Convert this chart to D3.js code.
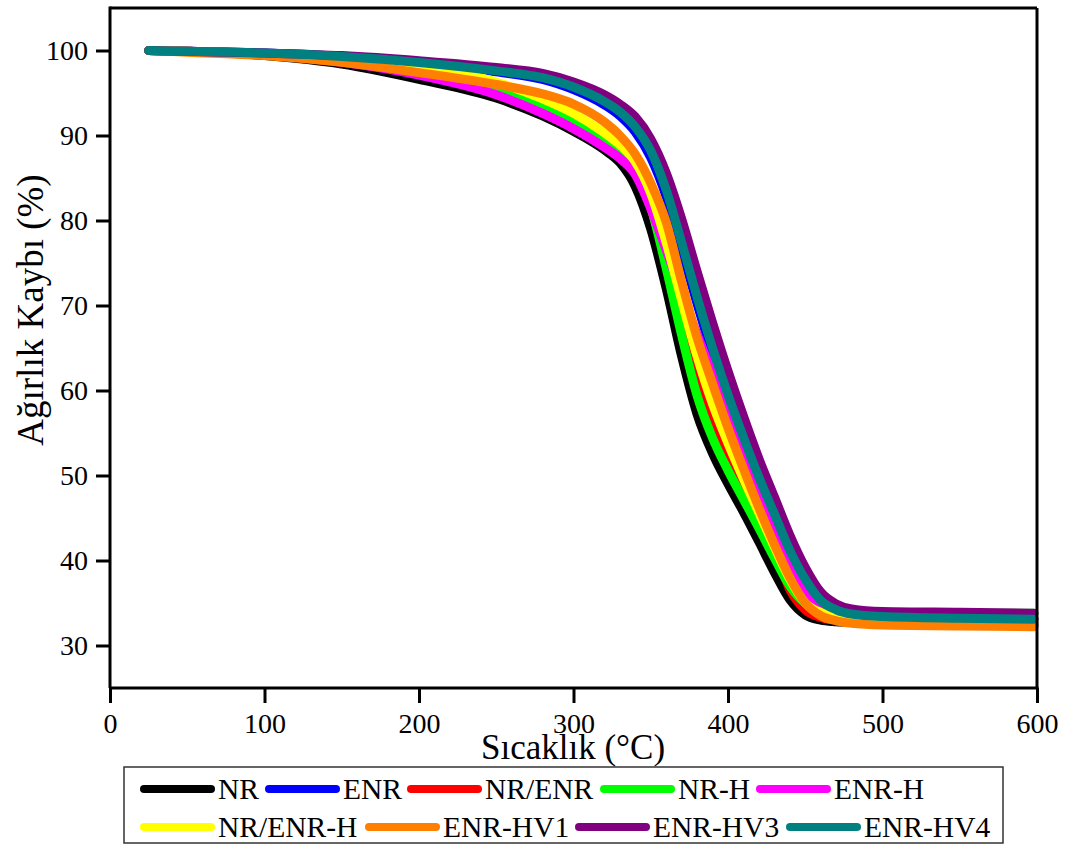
<!DOCTYPE html>
<html>
<head>
<meta charset="utf-8">
<script src="https://cdn.jsdelivr.net/npm/d3@7"></script>
<style>
  html, body { margin: 0; padding: 0; background: #ffffff; }
  svg { display: block; }
  text { font-family: "Liberation Serif", "Times New Roman", serif; fill: #000; }
</style>
</head>
<body>
<svg id="chart" width="1070" height="845"></svg>
<script>
// Temperature grid (°C) shared by all TGA curves
const temps = [25, 50, 100, 150, 200, 250, 280, 300, 320, 330, 340, 350, 360, 370, 380, 390, 400, 410, 420, 430, 440, 450, 460, 470, 480, 500, 550, 598];

// Remaining mass (%) for each sample at the temperatures above
const nr     = [100, 99.9, 99.4, 98.4, 96.6, 94.4, 92.3, 90.5, 88.3, 86.8, 84.0, 79.0, 72.0, 64.0, 57.2, 52.6, 49.0, 45.7, 42.2, 38.6, 35.4, 33.6, 33.0, 32.8, 32.7, 32.6, 32.5, 32.4];
const enr    = [100, 99.9, 99.7, 99.3, 98.6, 97.5, 96.6, 95.4, 93.6, 92.3, 90.4, 87.4, 82.8, 76.6, 70.2, 64.2, 58.8, 53.8, 49.2, 44.9, 40.7, 37.3, 35.0, 34.0, 33.6, 33.3, 33.2, 33.1];
const nrEnr  = [100, 99.9, 99.6, 98.8, 97.4, 95.3, 93.2, 91.3, 89.0, 87.6, 85.6, 81.5, 75.2, 68.4, 62.0, 56.6, 52.2, 48.8, 45.8, 41.4, 36.6, 34.2, 33.3, 33.0, 32.9, 32.8, 32.7, 32.7];
const nrH    = [100, 99.9, 99.6, 98.9, 97.6, 95.6, 93.6, 91.8, 89.6, 88.2, 86.0, 81.6, 74.4, 66.5, 59.4, 54.4, 50.6, 47.2, 43.8, 40.3, 37.0, 35.0, 34.3, 34.0, 33.9, 33.9, 33.8, 33.8];
const enrH   = [100, 99.9, 99.5, 98.6, 97.1, 94.8, 92.6, 90.8, 88.6, 87.3, 85.4, 81.4, 76.5, 71.5, 66.6, 62.0, 57.6, 53.0, 48.4, 43.8, 39.4, 36.0, 34.3, 33.7, 33.5, 33.4, 33.3, 33.2];
const nrEnrH = [100, 99.9, 99.6, 99.0, 98.0, 96.3, 94.3, 92.6, 90.3, 88.9, 86.9, 83.2, 77.4, 70.6, 64.0, 58.4, 53.8, 49.6, 45.6, 41.6, 37.8, 35.0, 33.9, 33.5, 33.3, 33.2, 33.1, 33.0];
const enrHv1 = [100, 99.8, 99.4, 98.6, 97.4, 96.0, 94.9, 93.7, 91.6, 90.0, 87.8, 84.4, 79.8, 72.8, 66.2, 60.8, 55.6, 50.8, 46.2, 41.9, 38.0, 35.0, 33.5, 32.9, 32.6, 32.4, 32.3, 32.2];
const enrHv3 = [100, 99.9, 99.7, 99.4, 98.8, 98.0, 97.3, 96.3, 94.8, 93.7, 92.2, 89.6, 85.6, 80.2, 74.0, 68.0, 62.3, 57.0, 52.0, 47.5, 43.0, 39.2, 36.3, 34.9, 34.3, 34.0, 33.9, 33.8];
const enrHv4 = [100, 99.9, 99.7, 99.3, 98.6, 97.6, 96.8, 95.7, 94.0, 92.8, 91.0, 88.2, 83.6, 77.4, 71.0, 65.0, 59.5, 54.5, 49.8, 45.5, 41.2, 37.8, 35.3, 34.2, 33.7, 33.4, 33.2, 33.1];

const seriesNames  = ["NR", "ENR", "NR/ENR", "NR-H", "ENR-H", "NR/ENR-H", "ENR-HV1", "ENR-HV3", "ENR-HV4"];
const seriesValues = [nr, enr, nrEnr, nrH, enrH, nrEnrH, enrHv1, enrHv3, enrHv4];
const seriesColors = ["#000000", "#0000ff", "#ff0000", "#00ff00", "#ff00ff", "#ffff00", "#ff8000", "#800080", "#008080"];

const xTicks = [0, 100, 200, 300, 400, 500, 600];
const yTicks = [30, 40, 50, 60, 70, 80, 90, 100];

const xLabel = "Sıcaklık (°C)";
const yLabel = "Ağırlık Kaybı (%)";

// Plot frame
const frame = { left: 110, right: 1037, top: 8, bottom: 688 };

const svg = d3.select("#chart");

const x = d3.scaleLinear().domain([0, 600]).range([frame.left, frame.right]);
const y = d3.scaleLinear().domain([25, 105]).range([frame.bottom, frame.top]);

// Curves
const line = d3.line()
  .x(d => x(d[0]))
  .y(d => y(d[1]))
  .curve(d3.curveMonotoneX);

const curves = svg.append("g").attr("class", "curves");
seriesValues.forEach((vals, i) => {
  curves.append("path")
    .datum(temps.map((t, k) => [t, vals[k]]))
    .attr("d", line)
    .attr("fill", "none")
    .attr("stroke", seriesColors[i])
    .attr("stroke-width", 9)
    .attr("stroke-linecap", "round")
    .attr("stroke-linejoin", "round");
});

// Frame: top and right borders
svg.append("line")
  .attr("x1", frame.left).attr("x2", frame.right).attr("y1", frame.top).attr("y2", frame.top)
  .attr("stroke", "#000").attr("stroke-width", 3);
svg.append("line")
  .attr("x1", frame.right).attr("x2", frame.right).attr("y1", frame.top).attr("y2", frame.bottom)
  .attr("stroke", "#000").attr("stroke-width", 3);

// Bottom axis (major + minor ticks)
const xAxis = svg.append("g").attr("transform", `translate(0,${frame.bottom})`);
xAxis.call(d3.axisBottom(x).tickValues(d3.range(50, 600, 100)).tickSize(8).tickFormat(""));
xAxis.call(d3.axisBottom(x).tickValues(xTicks).tickSize(15).tickPadding(10).tickFormat(d3.format("d")));
xAxis.selectAll(".domain").attr("stroke-width", 3).attr("d", `M${frame.left},0H${frame.right + 1.5}`);
xAxis.selectAll(".tick line").attr("stroke-width", 3);
xAxis.selectAll(".tick text")
  .style("font-family", "'Liberation Serif', serif")
  .style("font-size", "28px")
  .attr("fill", "#000");

// Left axis (major + minor ticks)
const yAxis = svg.append("g").attr("transform", `translate(${frame.left},0)`);
yAxis.call(d3.axisLeft(y).tickValues(d3.range(25, 105, 10)).tickSize(7).tickFormat(""));
yAxis.call(d3.axisLeft(y).tickValues(yTicks).tickSize(14).tickPadding(8).tickFormat(d3.format("d")));
yAxis.selectAll(".domain").attr("stroke-width", 3).attr("d", `M0,${frame.top - 1.5}V${frame.bottom}`);
yAxis.selectAll(".tick line").attr("stroke-width", 3);
yAxis.selectAll(".tick text")
  .style("font-family", "'Liberation Serif', serif")
  .style("font-size", "28px")
  .attr("fill", "#000");

// Axis titles
svg.append("text")
  .attr("x", 573).attr("y", 759)
  .attr("text-anchor", "middle")
  .style("font-size", "35px")
  .text(xLabel);

svg.append("text")
  .attr("transform", "translate(43,310) rotate(-90)")
  .attr("text-anchor", "middle")
  .style("font-size", "37px")
  .text(yLabel);

// Legend
const legendItems = [
  { row: 0, x: 140 }, { row: 0, x: 265 }, { row: 0, x: 407 }, { row: 0, x: 600 }, { row: 0, x: 756 },
  { row: 1, x: 140 }, { row: 1, x: 365 }, { row: 1, x: 575 }, { row: 1, x: 786 }
];
const legend = svg.append("g").attr("class", "legend");
legend.append("rect")
  .attr("x", 124).attr("y", 767).attr("width", 879).attr("height", 76)
  .attr("fill", "#fff").attr("stroke", "#333").attr("stroke-width", 1.5);

const rowY = [789, 827];
legendItems.forEach((it, i) => {
  const cy = rowY[it.row];
  legend.append("line")
    .attr("x1", it.x + 4).attr("x2", it.x + 71)
    .attr("y1", cy).attr("y2", cy)
    .attr("stroke", seriesColors[i])
    .attr("stroke-width", 8)
    .attr("stroke-linecap", "round");
  legend.append("text")
    .attr("x", it.x + 78).attr("y", cy + 10)
    .style("font-size", "29.5px")
    .text(seriesNames[i]);
});
</script>
</body>
</html>
